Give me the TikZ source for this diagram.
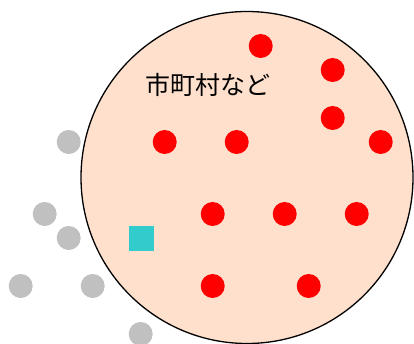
\documentclass[tikz,border=0pt]{standalone}
\usepackage{fontspec}
\newfontfamily\cjk{Noto Sans CJK JP}
\definecolor{peach}{HTML}{FFE0CC}
\definecolor{dotgray}{HTML}{C0C0C0}
\definecolor{teal}{HTML}{33CCCC}
\begin{document}
\begin{tikzpicture}[x=1pt,y=-1pt]

      \useasboundingbox (0,0) rectangle (414,344);

      \node (area) [circle,draw,fill=peach,line width=1.3pt,minimum size=332pt,inner sep=0pt] at (247,177.5) {};
      \node (label) at (207.5,85) {\cjk\fontsize{25}{28}\selectfont 市町村など};

      \begin{scope}[every node/.style={circle,fill=red,minimum size=24pt,inner sep=0pt}]
        \node (1)  at (260.7,46)  {};
        \node (2)  at (332.7,70)  {};
        \node (3)  at (332.7,118) {};
        \node (4)  at (380.7,142) {};
        \node (5)  at (164.7,142) {};
        \node (6)  at (236.7,142) {};
        \node (7)  at (212.7,214) {};
        \node (8)  at (284.7,214) {};
        \node (9)  at (356.7,214) {};
        \node (10) at (212.7,286) {};
        \node (11) at (308.7,286) {};
      \end{scope}

      \begin{scope}[every node/.style={circle,fill=dotgray,minimum size=24pt,inner sep=0pt}]
        \node (12) at (68.7,142)  {};
        \node (13) at (44.7,214)  {};
        \node (14) at (68.7,238)  {};
        \node (15) at (20.7,286)  {};
        \node (16) at (92.7,286)  {};
        \node (17) at (140.7,334) {};
      \end{scope}

      \node (18) [rectangle,fill=teal,minimum size=25pt,inner sep=0pt] at (141.5,238.3) {};

    \end{tikzpicture}
\end{document}
